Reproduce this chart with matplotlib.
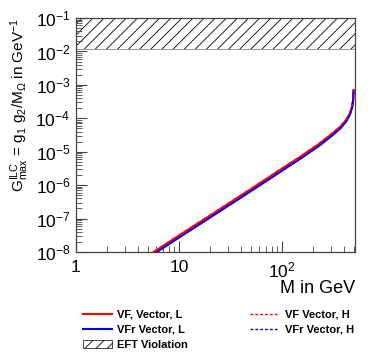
import matplotlib
matplotlib.use("Agg")
import matplotlib.pyplot as plt
import matplotlib.patches as mpatches
from matplotlib.lines import Line2D
from matplotlib.ticker import FixedLocator, FixedFormatter, LogLocator, NullFormatter

plt.rcParams['font.family'] = ['Liberation Sans', 'DejaVu Sans']
plt.rcParams['mathtext.default'] = 'regular'
plt.rcParams['hatch.linewidth'] = 0.6

# Данные для графика
mass = [5.7, 10, 20, 40, 76, 120, 150, 187, 234, 300, 366, 420, 457, 480,
        489, 495]
g_vf_l = [1.0e-8, 3.1e-8, 1.23e-7, 4.9e-7, 1.78e-6, 4.5e-6, 7.0e-6, 1.12e-5,
          1.8e-5, 3.3e-5, 5.5e-5, 9.0e-5, 1.44e-4, 2.3e-4, 3.5e-4, 7.0e-4]
g_vfr_l = [8.7e-9, 2.7e-8, 1.07e-7, 4.26e-7, 1.55e-6, 3.92e-6, 6.1e-6, 9.8e-6,
           1.58e-5, 2.9e-5, 4.9e-5, 8.1e-5, 1.31e-4, 2.15e-4, 3.3e-4, 6.7e-4]
g_vf_h = g_vf_l
g_vfr_h = g_vfr_l
eft_limit = 1.2e-2
x_ticks = [1, 10, 100]
x_tick_labels = ["1", "10", "$10^{2}$"]

fig = plt.figure(figsize=(3.74, 3.61), dpi=100)
ax = fig.add_axes([0.203, 0.302, 0.746, 0.648])

ax.fill_between([1, 510], eft_limit, 1e-1, facecolor="white",
                edgecolor="black", hatch="///", linewidth=0, zorder=1)
ax.axhline(eft_limit, color="#888888", linewidth=0.6, zorder=1)

ax.plot(mass, g_vf_l, color="red", lw=1.5, zorder=3)
ax.plot(mass, g_vfr_l, color="blue", lw=1.5, zorder=3)
ax.plot(mass, g_vf_h, color="red", lw=1.5, ls=(0, (2, 1.5)), zorder=4)
ax.plot(mass, g_vfr_h, color="blue", lw=1.0, ls=(0, (2, 1.5)), zorder=4)

ax.set_xscale("log")
ax.set_yscale("log")
ax.set_xlim(1, 510)
ax.set_ylim(1e-8, 1e-1)

ax.xaxis.set_major_locator(FixedLocator(x_ticks))
ax.xaxis.set_major_formatter(FixedFormatter(x_tick_labels))
ax.xaxis.set_minor_locator(LogLocator(base=10, subs=range(2, 10), numticks=20))
ax.xaxis.set_minor_formatter(NullFormatter())
ax.yaxis.set_major_locator(LogLocator(base=10, numticks=20))
ax.yaxis.set_minor_locator(LogLocator(base=10, subs=range(2, 10), numticks=20))
ax.yaxis.set_minor_formatter(NullFormatter())

ax.tick_params(which="both", direction="in", top=False, right=False,
               colors="#444444", labelcolor="black", labelsize=12.5, pad=4)
ax.tick_params(which="major", length=8, width=0.8)
ax.tick_params(which="minor", length=4, width=0.6)
ax.tick_params(axis="x", pad=6)
for s in ax.spines.values():
    s.set_color("#444444")
    s.set_linewidth(0.9)

ax.set_xlabel("M in GeV", fontsize=13, loc="right", labelpad=0)
ax.set_ylabel(r"$G^{ILC}_{max}$ = g$_{1}$ g$_{2}$/M$_{\Omega}$ in GeV$^{-1}$",
              fontsize=11, loc="top", labelpad=3)

handles = [
    Line2D([], [], color="red", lw=1.5),
    Line2D([], [], color="blue", lw=1.5),
    mpatches.Patch(facecolor="white", edgecolor="black", hatch="///", lw=0.5),
    Line2D([], [], color="red", lw=1.0, ls=(0, (2, 1.5))),
    Line2D([], [], color="blue", lw=1.0, ls=(0, (2, 1.5))),
]
labels = ["VF, Vector, L", "VFr Vector, L", "EFT Violation",
          "VF Vector, H", "VFr Vector, H"]
fig.legend(handles, labels, ncol=2, frameon=False, loc="upper left",
           bbox_to_anchor=(0.195, 0.17), prop={"weight": "bold", "size": 8},
           handlelength=2.6, columnspacing=5.6, labelspacing=0.45,
           handletextpad=0.5)

fig.savefig("out.png", dpi=100)
